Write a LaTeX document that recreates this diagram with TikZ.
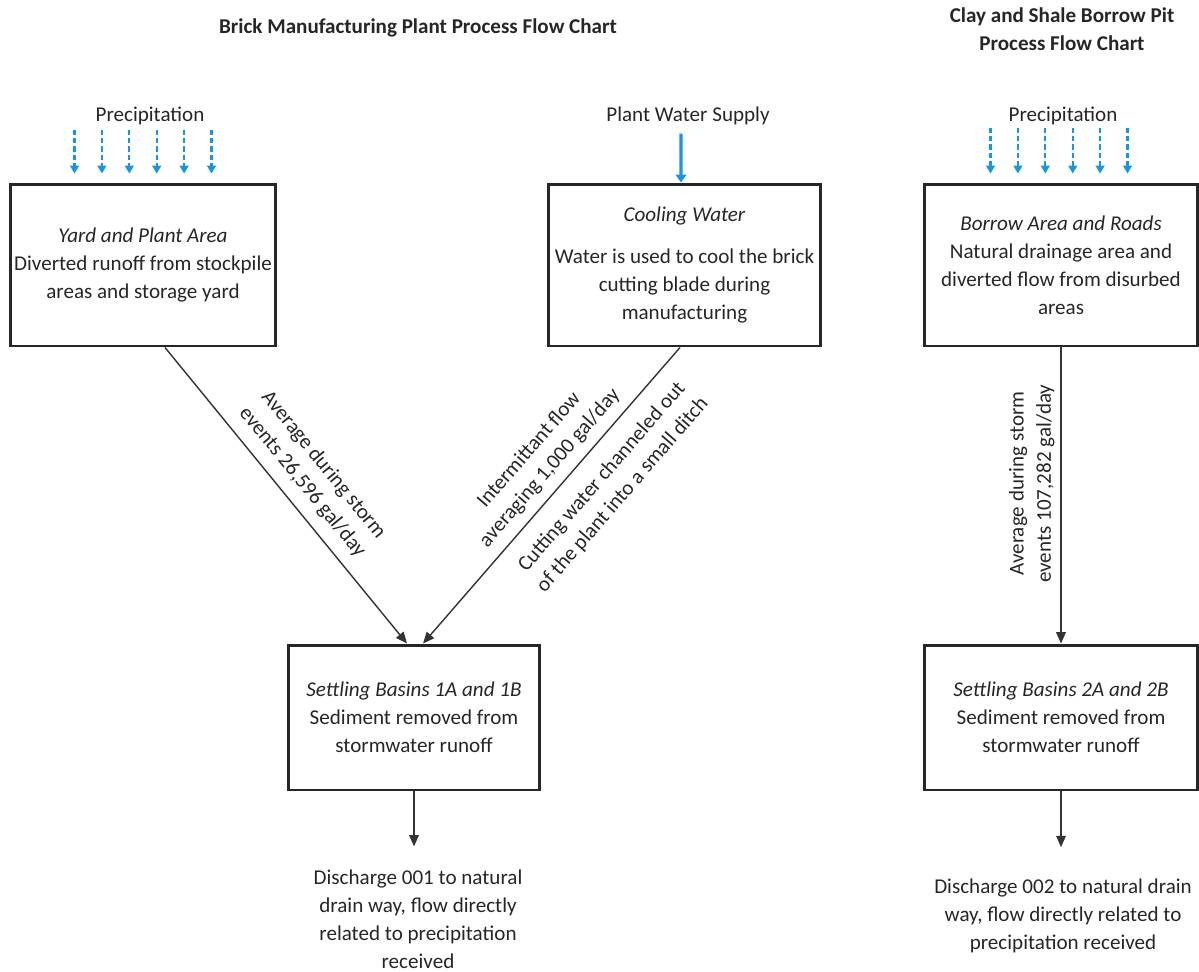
\documentclass[tikz,border=0pt]{standalone}
\usepackage{fontspec}
\setmainfont{Carlito}
\usetikzlibrary{arrows.meta,calc}
\definecolor{rainblue}{RGB}{25,150,225}

\begin{document}
\begin{tikzpicture}[x=0.02cm,y=-0.02cm,
  every node/.style={font=\fontsize{12}{15.9}\selectfont, text=black!85},
  procbox/.style={draw=black!85, line width=1.7pt, align=center, inner sep=2pt},
  flow/.style={draw=black!80, line width=0.8pt, -{Triangle[length=6.5pt,width=5.5pt]}},
  rain/.style={draw=rainblue, line width=1.3pt, dash pattern=on 3pt off 1.8pt, -{Triangle[length=4.5pt,width=5pt]}},
  pipe/.style={draw=rainblue, line width=1.8pt, -{Triangle[length=4.5pt,width=6pt]}},
  flowtext/.style={align=center, font=\fontsize{12}{15.5}\selectfont}]
\useasboundingbox (0,0) rectangle (1199,971);

% titles
\node[font=\bfseries\fontsize{12}{15.9}\selectfont] (title1) at (418,28) {Brick Manufacturing Plant Process Flow Chart};
\node[font=\bfseries\fontsize{12}{15.9}\selectfont, align=center] (title2) at (1062,29) {Clay and Shale Borrow Pit\\Process Flow Chart};

% sources
\node (rain1) at (150,116) {Precipitation};
\node (supply) at (688,116) {Plant Water Supply};
\node (rain2) at (1063,116) {Precipitation};

% process boxes
\node[procbox, minimum width=5.32cm, minimum height=3.24cm] (yard) at (143,265)
  {\textit{Yard and Plant Area}\\Diverted runoff from stockpile\\areas and storage yard};
\node[procbox, minimum width=5.46cm, minimum height=3.24cm] (cool) at (684.5,265)
  {\textit{Cooling Water}\\[8pt]Water is used to cool the brick\\cutting blade during\\manufacturing};
\node[procbox, minimum width=5.48cm, minimum height=3.24cm] (borrow) at (1061,265)
  {\textit{Borrow Area and Roads}\\Natural drainage area and\\diverted flow from disurbed\\areas};
\node[procbox, minimum width=5.04cm, minimum height=2.9cm] (basin1) at (414,717.5)
  {\textit{Settling Basins 1A and 1B}\\Sediment removed from\\stormwater runoff};
\node[procbox, minimum width=5.48cm, minimum height=2.9cm] (basin2) at (1061,717.5)
  {\textit{Settling Basins 2A and 2B}\\Sediment removed from\\stormwater runoff};

% outlets
\node[align=center, anchor=north] (out1) at (418,864)
  {Discharge 001 to natural\\drain way, flow directly\\related to precipitation\\received};
\node[align=center, anchor=north] (out2) at (1063,873)
  {Discharge 002 to natural drain\\way, flow directly related to\\precipitation received};

% precipitation and supply
\foreach \i in {-2.5,-1.5,...,2.5}
  \draw[rain] ($(yard.north)+(\i*27.4,-53)$) -- ($(yard.north)+(\i*27.4,-9)$);
\foreach \i in {-2.5,-1.5,...,2.5}
  \draw[rain] ($(borrow.north)+(\i*27.4-2,-55)$) -- ($(borrow.north)+(\i*27.4-2,-9)$);
\draw[pipe] ($(cool.north)+(-3.5,-49)$) -- ([xshift=-0.07cm]cool.north);

% flows
\draw[flow] ([xshift=0.44cm]yard.south) -- node[flowtext, sloped, above=3pt, pos=0.5]
  {Average during storm\\events 26,596 gal/day} ([xshift=-0.14cm]basin1.north);
\draw[flow] ([xshift=-0.09cm]cool.south) --
  node[flowtext, sloped, above=2pt, pos=0.45] {Intermittant flow\\averaging 1,000 gal/day}
  node[flowtext, sloped, below=6pt, pos=0.38] {Cutting water channeled out\\of the plant into a small ditch}
  ([xshift=0.18cm]basin1.north);
\draw[flow] (borrow.south) -- node[flowtext, rotate=90, anchor=south, pos=0.46]
  {Average during storm\\events 107,282 gal/day} (basin2.north);

\draw[flow, shorten >=10pt] (basin1.south) -- (basin1.south |- out1.north);
\draw[flow, shorten >=14.7pt] (basin2.south) -- (basin2.south |- out2.north);
\end{tikzpicture}
\end{document}
